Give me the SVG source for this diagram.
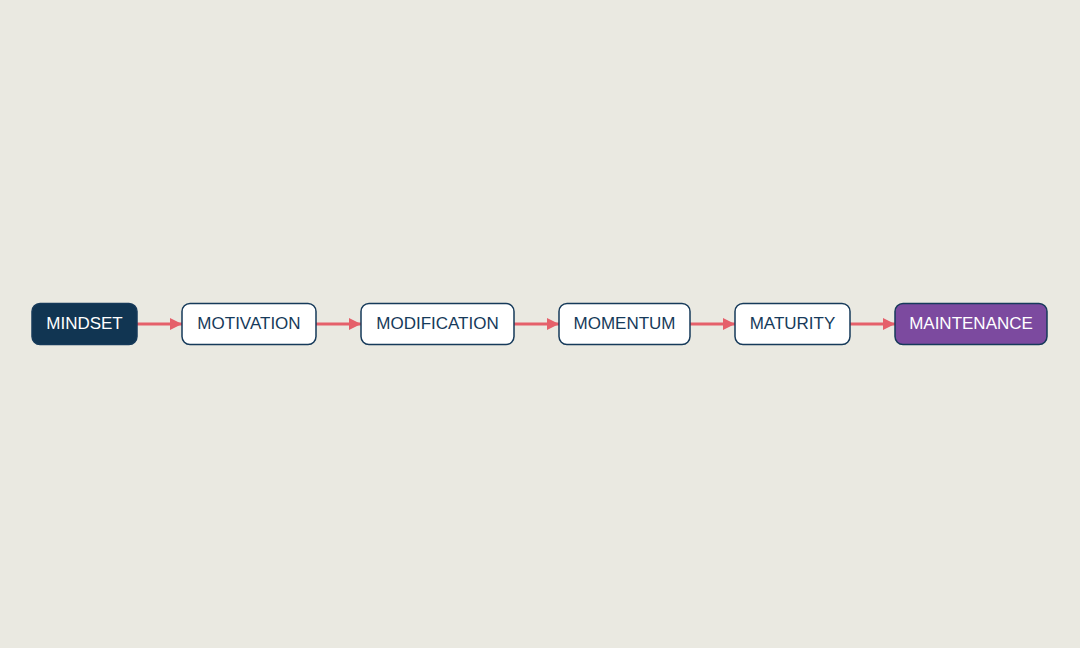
<svg xmlns="http://www.w3.org/2000/svg" width="1080" height="648" viewBox="0 0 1080 648">
<defs>
<style>
.box{stroke:#163a5a;stroke-width:1.5}
.w{fill:#ffffff}
.t{font-family:"Liberation Sans",Arial,sans-serif;font-size:17px;text-anchor:middle;dominant-baseline:central}
.dk{fill:#163a5a}
.lt{fill:#ffffff}
.e{stroke:#e5606a;stroke-width:3;fill:none}
</style>
<marker id="ah" viewBox="0 0 10 10" refX="10" refY="5" markerWidth="5" markerHeight="4" orient="auto" markerUnits="strokeWidth">
<path d="M0,0 L10,5 L0,10 z" fill="#e5606a"/>
</marker>
</defs>
<rect width="1080" height="648" fill="#eae9e1"/>
<g id="connectors">
<line class="e" x1="137" y1="324" x2="182" y2="324" marker-end="url(#ah)"/>
<line class="e" x1="316" y1="324" x2="361" y2="324" marker-end="url(#ah)"/>
<line class="e" x1="514" y1="324" x2="559" y2="324" marker-end="url(#ah)"/>
<line class="e" x1="690" y1="324" x2="735" y2="324" marker-end="url(#ah)"/>
<line class="e" x1="850" y1="324" x2="895" y2="324" marker-end="url(#ah)"/>
</g>
<g id="mindset">
<rect class="box" x="32" y="303.5" width="105" height="41" rx="8" fill="#113552"/>
<text class="t lt" x="84.5" y="323">MINDSET</text>
</g>
<g id="motivation">
<rect class="box w" x="182" y="303.5" width="134" height="41" rx="8"/>
<text class="t dk" x="249" y="323">MOTIVATION</text>
</g>
<g id="modification">
<rect class="box w" x="361" y="303.5" width="153" height="41" rx="8"/>
<text class="t dk" x="437.5" y="323">MODIFICATION</text>
</g>
<g id="momentum">
<rect class="box w" x="559" y="303.5" width="131" height="41" rx="8"/>
<text class="t dk" x="624.5" y="323">MOMENTUM</text>
</g>
<g id="maturity">
<rect class="box w" x="735" y="303.5" width="115" height="41" rx="8"/>
<text class="t dk" x="792.5" y="323">MATURITY</text>
</g>
<g id="maintenance">
<rect class="box" x="895" y="303.5" width="152" height="41" rx="8" fill="#7c4a9f"/>
<text class="t lt" x="971" y="323">MAINTENANCE</text>
</g>
</svg>
